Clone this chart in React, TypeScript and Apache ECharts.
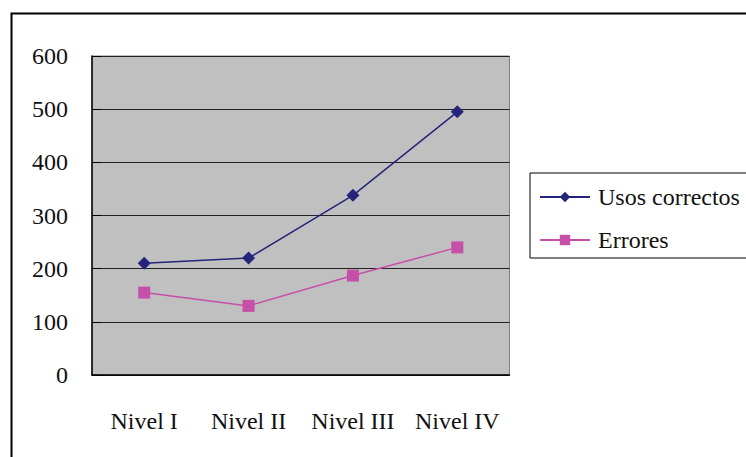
import React, { useEffect, useRef } from "react";
import * as echarts from "echarts";

const categories = ["Nivel I", "Nivel II", "Nivel III", "Nivel IV"];
const usosCorrectos = [210, 220, 338, 495];
const errores = [155, 130, 187, 240];
const yTicks = { min: 0, max: 600, interval: 100 };

const FONT = "'Liberation Serif', 'Times New Roman', serif";

export default function App() {
  const ref = useRef<HTMLDivElement>(null);
  useEffect(() => {
    if (!ref.current) return;
    const chart = echarts.init(ref.current, null, { renderer: "svg" });
    chart.setOption({
      animation: false,
      backgroundColor: "#ffffff",
      textStyle: { fontFamily: FONT },
      graphic: [
        {
          type: "rect",
          left: 9,
          top: 11,
          shape: { x: 0, y: 0, width: 780, height: 480 },
          style: { fill: "none", stroke: "#000", lineWidth: 2 },
          silent: true,
          z: -1,
        },
      ],
      grid: {
        left: 92,
        top: 56,
        right: 236.5,
        bottom: 82,
        show: true,
        backgroundColor: "#C0C0C0",
        borderColor: "#808080",
        borderWidth: 1,
      },
      legend: {
        orient: "vertical",
        left: 530,
        top: 173,
        padding: [12, 30, 6, 9],
        itemGap: 19,
        itemWidth: 50,
        itemHeight: 13,
        borderColor: "#000",
        borderWidth: 1,
        backgroundColor: "#fff",
        textStyle: {
          fontFamily: FONT,
          fontSize: 24,
          color: "#111",
          padding: [0, 0, 0, 3],
        },
        data: ["Usos correctos", "Errores"],
      },
      xAxis: {
        type: "category",
        data: categories,
        boundaryGap: true,
        axisLine: { lineStyle: { color: "#000", width: 1.5 } },
        axisTick: { inside: true, length: 9, lineStyle: { color: "#000" } },
        axisLabel: {
          interval: 0,
          fontFamily: FONT,
          fontSize: 24,
          color: "#111",
          margin: 34,
        },
        splitLine: { show: false },
      },
      yAxis: {
        type: "value",
        min: yTicks.min,
        max: yTicks.max,
        interval: yTicks.interval,
        axisLine: { show: true, lineStyle: { color: "#000", width: 1.5 } },
        axisTick: { show: true, inside: true, length: 9, lineStyle: { color: "#000" } },
        axisLabel: {
          fontFamily: FONT,
          fontSize: 24,
          color: "#111",
          margin: 24,
        },
        splitLine: { show: true, lineStyle: { color: "#222", width: 1 } },
      },
      series: [
        {
          name: "Usos correctos",
          type: "line",
          data: usosCorrectos,
          symbol: "diamond",
          symbolSize: 13,
          itemStyle: { color: "#24247A" },
          lineStyle: { color: "#24247A", width: 1.5 },
        },
        {
          name: "Errores",
          type: "line",
          data: errores,
          symbol: "rect",
          symbolSize: 12,
          itemStyle: { color: "#C64FA8" },
          lineStyle: { color: "#C64FA8", width: 1.5 },
        },
      ],
    });
    return () => chart.dispose();
  }, []);
  return (
    <div
      ref={ref}
      style={{ position: "fixed", left: 0, top: 0, width: 746, height: 457 }}
    />
  );
}
